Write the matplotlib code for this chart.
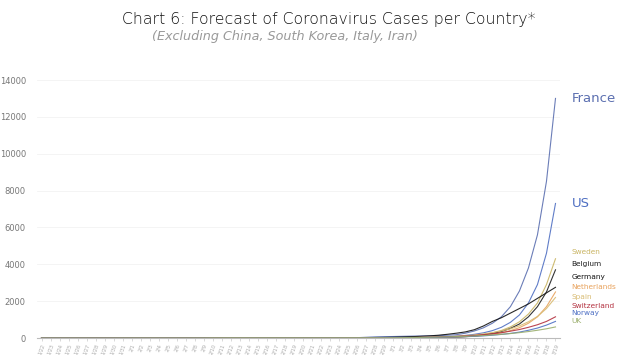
import matplotlib
matplotlib.use("Agg")
import matplotlib.pyplot as plt

# ---- data ----
dates = (["1/%d" % d for d in range(22, 32)] +
         ["2/%d" % d for d in range(1, 30)] +
         ["3/%d" % d for d in range(1, 20)])

france = [0, 0, 1, 3, 3, 3, 4, 4, 5, 5, 6, 6, 6, 6, 6, 6, 6, 11, 11, 11,
          11, 11, 11, 11, 12, 12, 12, 12, 12, 12, 12, 12, 12, 12, 14, 18, 38, 57, 70, 80,
          90, 100, 110, 120, 130, 150, 180, 260, 380, 550, 800, 1150, 1700, 2550, 3800, 5600, 8500, 13000]
us = [1, 1, 2, 2, 5, 5, 5, 5, 5, 6, 7, 8, 11, 11, 11, 12, 12, 12, 12, 12,
      13, 13, 14, 14, 14, 14, 14, 14, 14, 14, 15, 15, 15, 15, 15, 20, 25, 30, 35, 40,
      45, 50, 55, 58, 60, 75, 100, 140, 200, 280, 400, 580, 850, 1250, 1900, 2900, 4600, 7300]
sweden = [0, 0, 0, 0, 0, 0, 0, 0, 0, 1, 1, 1, 1, 1, 1, 1, 1, 1, 1, 1,
          1, 1, 1, 1, 1, 1, 1, 1, 1, 1, 1, 1, 1, 1, 1, 1, 2, 5, 7, 10,
          12, 14, 18, 24, 32, 42, 60, 90, 130, 190, 280, 410, 600, 880, 1300, 1900, 2900, 4300]
belgium = [0, 0, 0, 0, 0, 0, 0, 0, 0, 0, 0, 0, 0, 0, 1, 1, 1, 1, 1, 1,
           1, 1, 1, 1, 1, 1, 1, 1, 1, 1, 1, 1, 1, 1, 1, 1, 1, 1, 1, 2,
           5, 8, 12, 18, 25, 35, 50, 75, 110, 160, 240, 350, 520, 760, 1150, 1700, 2500, 3700]
germany = [0, 0, 0, 0, 0, 1, 4, 4, 4, 5, 8, 10, 12, 12, 12, 12, 13, 13, 14, 14,
           16, 16, 16, 16, 16, 16, 16, 16, 16, 16, 16, 16, 16, 16, 16, 17, 20, 25, 30, 40,
           55, 70, 90, 115, 150, 200, 260, 330, 450, 650, 900, 1100, 1350, 1600, 1850, 2150, 2450, 2750]
netherlands = [0, 0, 0, 0, 0, 0, 0, 0, 0, 0, 0, 0, 0, 0, 0, 0, 0, 0, 0, 0,
               0, 0, 0, 0, 0, 0, 0, 0, 0, 0, 0, 0, 0, 0, 0, 0, 1, 1, 2, 4,
               6, 9, 13, 18, 26, 36, 50, 70, 100, 140, 200, 280, 400, 560, 800, 1150, 1700, 2500]
spain = [0, 0, 0, 0, 0, 0, 0, 0, 0, 0, 1, 1, 1, 1, 1, 1, 1, 1, 1, 2,
         2, 2, 2, 2, 2, 2, 2, 2, 2, 2, 2, 2, 2, 2, 2, 3, 5, 8, 12, 16,
         20, 26, 34, 44, 56, 72, 95, 125, 165, 220, 290, 380, 500, 660, 880, 1170, 1600, 2200]
switzerland = [0, 0, 0, 0, 0, 0, 0, 0, 0, 0, 0, 0, 0, 0, 0, 0, 0, 0, 0, 0,
               0, 0, 0, 0, 0, 0, 0, 0, 0, 0, 0, 0, 0, 0, 1, 1, 3, 5, 8, 12,
               16, 22, 30, 40, 52, 66, 85, 110, 140, 180, 230, 290, 370, 460, 580, 720, 900, 1150]
norway = [0, 0, 0, 0, 0, 0, 0, 0, 0, 0, 0, 0, 0, 0, 0, 0, 0, 0, 0, 0,
          0, 0, 0, 0, 0, 0, 0, 0, 0, 0, 0, 0, 0, 0, 0, 1, 1, 3, 6, 9,
          12, 16, 21, 27, 34, 43, 55, 70, 90, 115, 150, 195, 250, 320, 420, 540, 700, 900]
uk = [0, 0, 0, 0, 0, 0, 0, 0, 0, 2, 2, 2, 2, 2, 2, 2, 2, 3, 3, 8,
      8, 9, 9, 9, 9, 9, 9, 9, 9, 9, 9, 9, 9, 9, 13, 13, 13, 13, 13, 16,
      20, 25, 32, 40, 50, 62, 76, 92, 110, 135, 165, 200, 240, 290, 350, 420, 500, 600]

series = [
    ("France", france, "#5b6fb0"),
    ("US", us, "#4f6fc2"),
    ("Sweden", sweden, "#c9b462"),
    ("Belgium", belgium, "#1e1e1e"),
    ("Germany", germany, "#111111"),
    ("Netherlands", netherlands, "#e8a25c"),
    ("Spain", spain, "#d8bb72"),
    ("Switzerland", switzerland, "#b3303f"),
    ("Norway", norway, "#4d6fc4"),
    ("UK", uk, "#9aae6c"),
]
# label y-positions (in data units) at right of the chart
label_y = {"France": 13000, "US": 7300, "Sweden": 4650, "Belgium": 4000,
           "Germany": 3300, "Netherlands": 2750, "Spain": 2250,
           "Switzerland": 1750, "Norway": 1350, "UK": 900}
label_size = {"France": 9.5, "US": 9.5}

fig = plt.figure(figsize=(6.2, 3.55), dpi=100)
ax = fig.add_axes([37 / 620, 1 - 338 / 355, (560 - 37) / 620, (338 - 80) / 355])

x = list(range(len(dates)))
for name, vals, col in series:
    ax.plot(x, vals, color=col, lw=0.8, alpha=0.9)
    ax.text(len(dates) + 0.8, label_y[name], name, color=col,
            fontsize=label_size.get(name, 5.3), va="center", ha="left",
            family="DejaVu Sans", clip_on=False)

ax.set_xlim(-0.5, len(dates) - 0.5)
ax.set_ylim(0, 14000)
ax.set_yticks(range(0, 14001, 2000))
ax.set_yticklabels([str(v) for v in range(0, 14001, 2000)])
ax.set_xticks(x)
ax.set_xticklabels(dates, rotation=70, fontsize=3.6, color="#a8a8a8")
ax.tick_params(axis="y", length=0, labelsize=6, labelcolor="#777777", pad=8)
ax.tick_params(axis="x", length=2, width=0.4, color="#bbbbbb", pad=1.5)
for s in ["top", "right", "left"]:
    ax.spines[s].set_visible(False)
ax.spines["bottom"].set_color("#bbbbbb")
ax.spines["bottom"].set_linewidth(0.8)
ax.grid(axis="y", color="#f3f3f3", lw=0.6)
ax.set_axisbelow(True)

fig.text(0.53, 0.945, "Chart 6: Forecast of Coronavirus Cases per Country*",
         ha="center", va="center", fontsize=11.3, color="#111111",
         family="DejaVu Sans", fontweight="light")
fig.text(0.46, 0.897, "(Excluding China, South Korea, Italy, Iran)",
         ha="center", va="center", fontsize=9.2, color="#999999",
         style="italic", family="DejaVu Sans")

fig.savefig("out.png", dpi=100)
